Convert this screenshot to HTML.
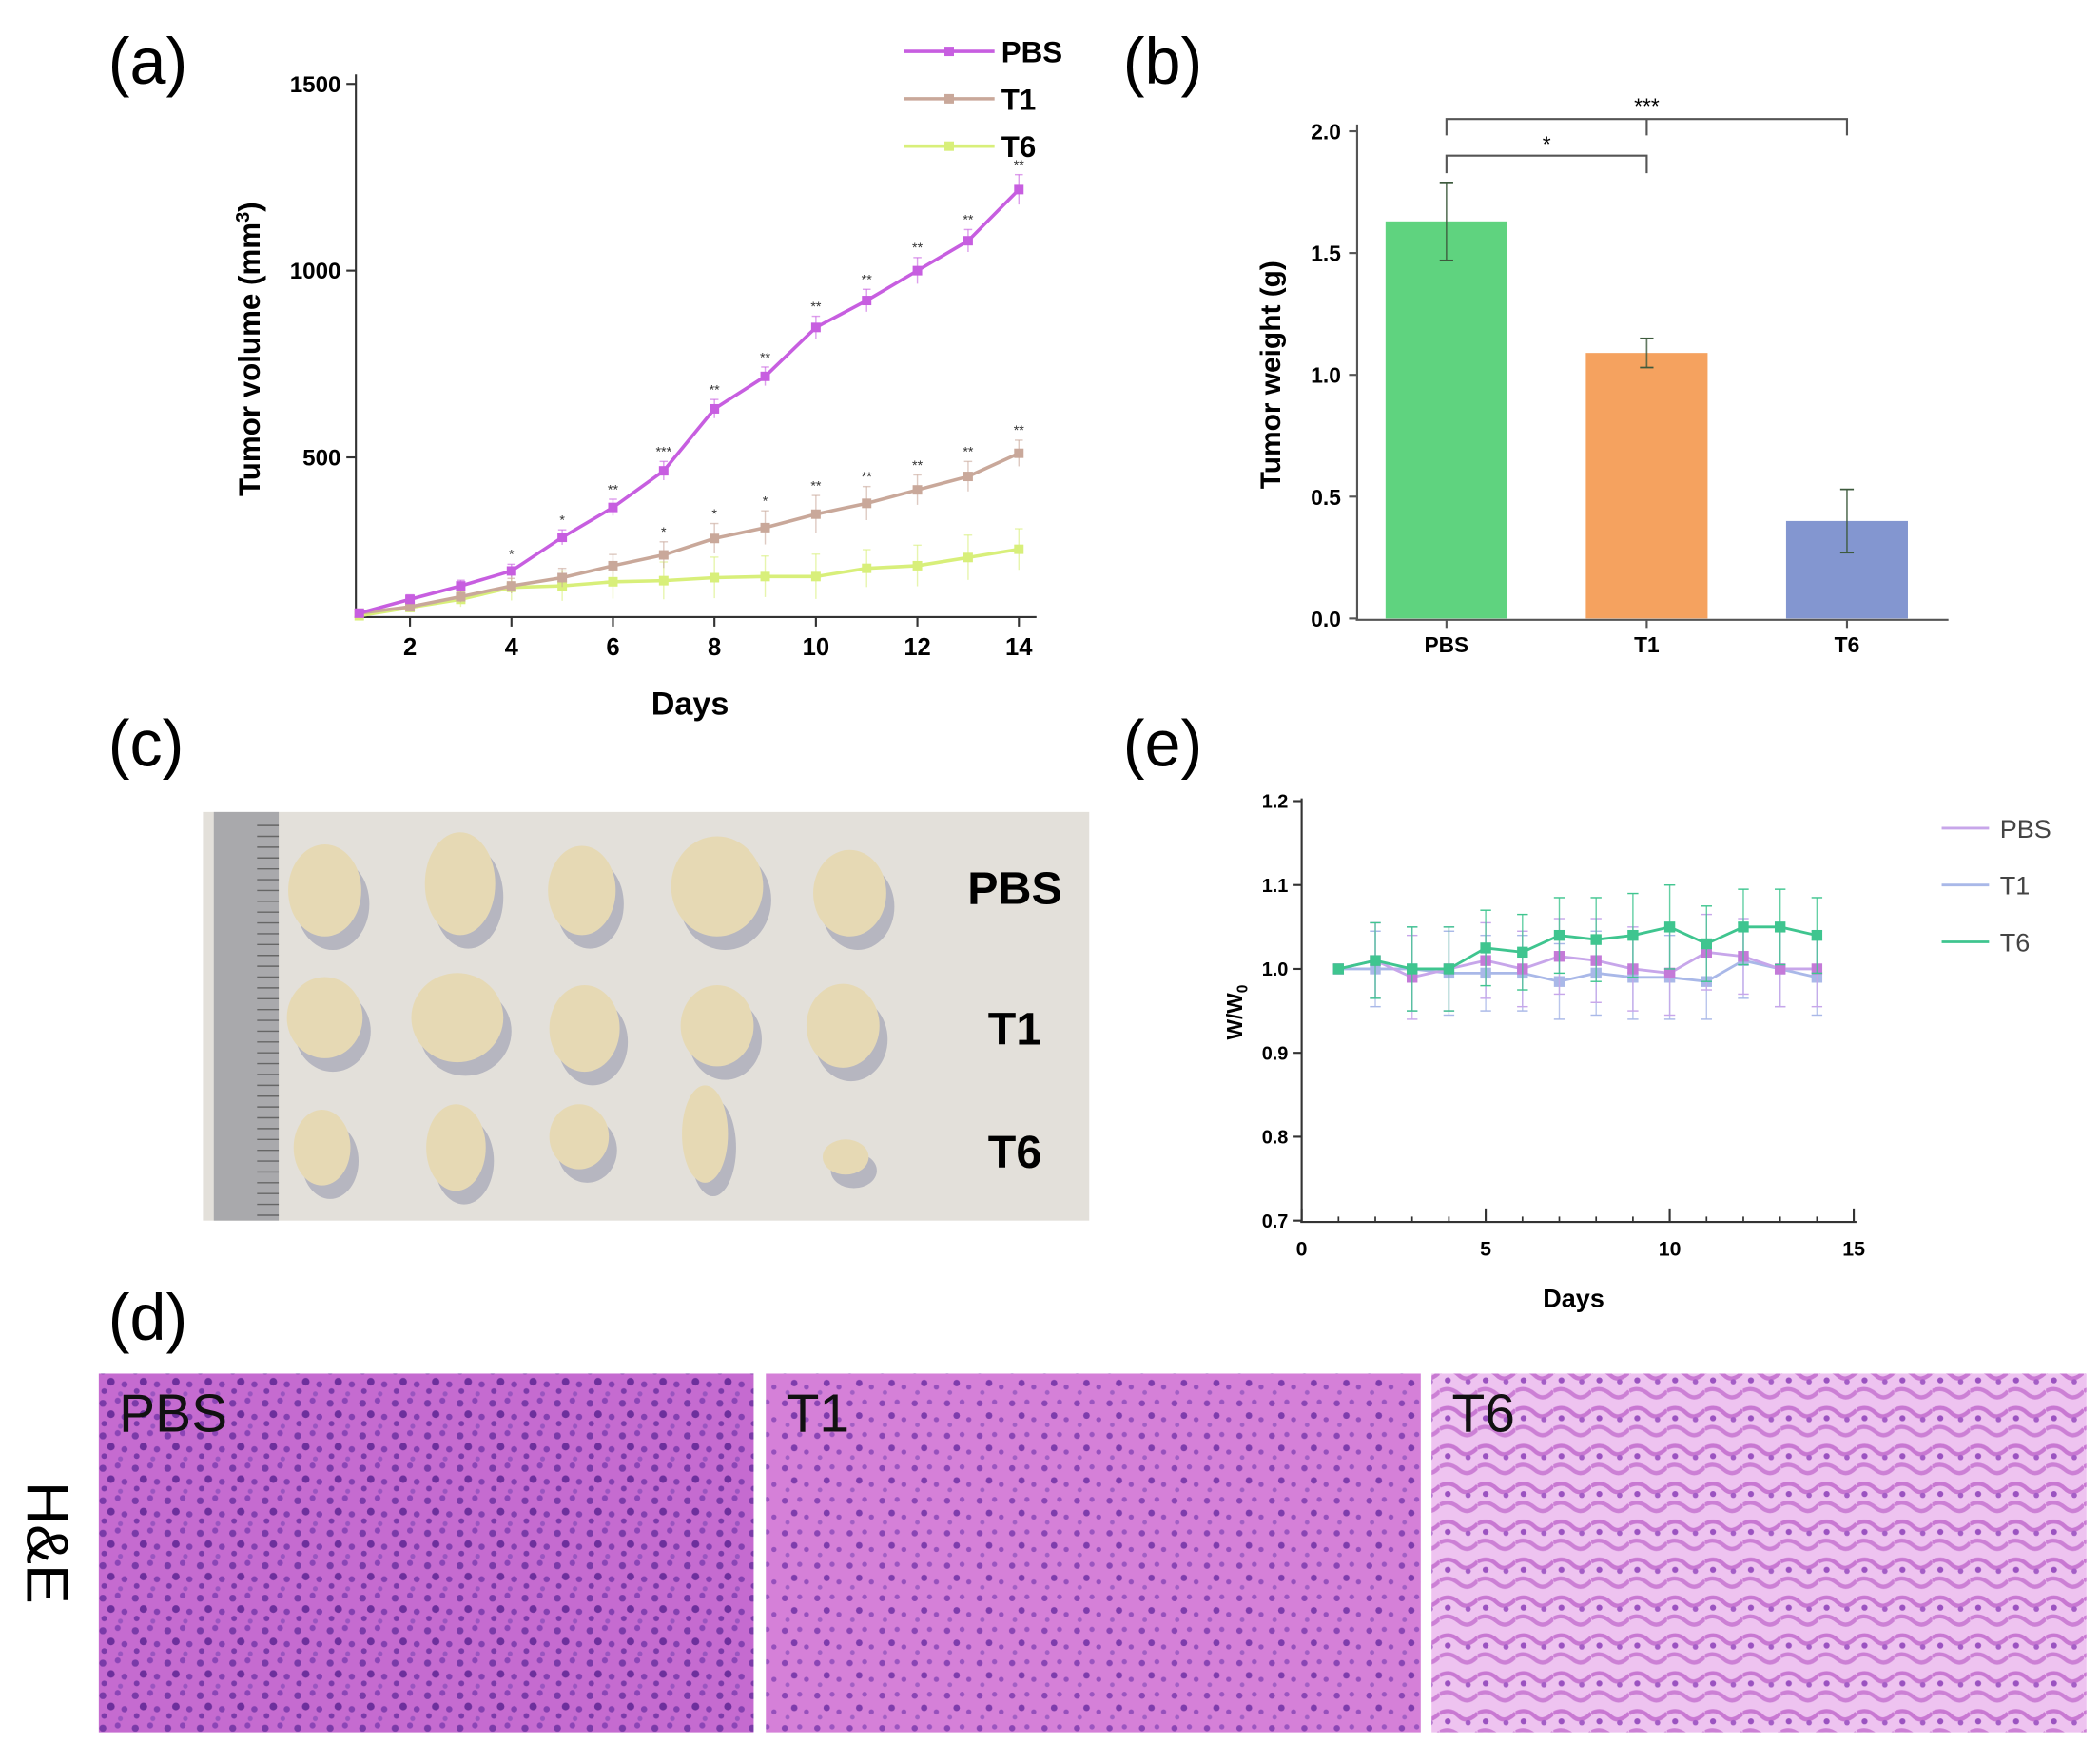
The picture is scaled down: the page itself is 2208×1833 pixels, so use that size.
<!DOCTYPE html>
<html><head><meta charset="utf-8"><style>
html,body{margin:0;padding:0;background:#fff}
svg{display:block}
text{font-family:"Liberation Sans",Arial,sans-serif}
</style></head><body>
<svg id="fig" width="2208" height="1833" viewBox="0 0 1552 1288" preserveAspectRatio="none" xmlns="http://www.w3.org/2000/svg">
<defs>
<pattern id="he1" width="24" height="24" patternUnits="userSpaceOnUse">
<rect width="24" height="24" fill="#c56bd0"/>
<circle cx="4" cy="5" r="2.6" fill="#7a3aa8"/><circle cx="15" cy="3" r="2.2" fill="#8b45b6"/>
<circle cx="10" cy="13" r="2.8" fill="#6d2f9c"/><circle cx="20" cy="15" r="2.3" fill="#8440b0"/>
<circle cx="5" cy="20" r="2.1" fill="#7b3aa9"/><circle cx="17" cy="22" r="1.8" fill="#9a55c0"/>
</pattern>
<pattern id="he2" width="24" height="24" patternUnits="userSpaceOnUse">
<rect width="24" height="24" fill="#d580d8"/>
<circle cx="4" cy="5" r="2.3" fill="#8a45b4"/><circle cx="15" cy="4" r="1.9" fill="#9b55c0"/>
<circle cx="11" cy="14" r="2.4" fill="#7e3cac"/><circle cx="20" cy="17" r="1.9" fill="#9650bc"/>
<circle cx="6" cy="21" r="1.7" fill="#a25fc4"/>
</pattern>
<pattern id="he3" width="28" height="28" patternUnits="userSpaceOnUse">
<rect width="28" height="28" fill="#eec3f0"/>
<path d="M0 6 Q8 2 14 8 T28 6" stroke="#c878d2" stroke-width="3" fill="none"/>
<path d="M0 20 Q7 16 14 22 T28 20" stroke="#cc80d5" stroke-width="3" fill="none"/>
<circle cx="6" cy="12" r="2.2" fill="#9a52c0"/><circle cx="21" cy="13" r="2" fill="#a45ec6"/>
</pattern>
</defs>
</svg>
<script>
const NS="http://www.w3.org/2000/svg";
const svg=document.getElementById('fig');
function el(tag,attrs,parent,txt){const e=document.createElementNS(NS,tag);for(const k in attrs)e.setAttribute(k,attrs[k]);if(txt!==undefined)e.textContent=txt;(parent||svg).appendChild(e);return e;}

// ---------- Panel (a) data ----------
const aDays=[1,2,3,4,5,6,7,8,9,10,11,12,13,14];
const aPBS=[83,120,156,196,286,366,464,630,717,848,920,1000,1080,1217];
const aT1=[83,100,127,156,178,210,239,283,312,348,377,413,449,511];
const aT6=[76,98,120,152,156,167,170,178,181,181,203,210,232,254];
const aPBSerr=[10,12,15,18,20,22,25,25,25,30,30,35,30,40];
const aT1err=[8,10,15,20,25,30,35,40,45,50,45,40,40,35];
const aT6err=[8,10,20,35,40,45,50,55,55,60,50,55,60,55];
const aPBSstars=["","","","*","*","**","***","**","**","**","**","**","**","**"];
const aT1stars=["","","","","","","*","*","*","**","**","**","**","**"];
const aYTicks=[500,1000,1500];
const aXTicks=[2,4,6,8,10,12,14];

const ax=d=>265.5+(d-1)*37.5;
const ay=v=>476-v*0.276;
const gA=el('g',{});
el('text',{x:80,y:62,'font-size':48},gA,'(a)');
el('line',{x1:263,y1:55,x2:263,y2:456,stroke:'#333','stroke-width':1.5},gA);
el('line',{x1:262,y1:456,x2:766,y2:456,stroke:'#333','stroke-width':1.5},gA);
aYTicks.forEach(v=>{el('line',{x1:256,y1:ay(v),x2:263,y2:ay(v),stroke:'#333','stroke-width':1.5},gA);
 const t=el('text',{x:252,y:ay(v)+6,'font-size':17,'font-weight':'bold','text-anchor':'end'},gA,v);});
aXTicks.forEach(d=>{el('line',{x1:ax(d),y1:456,x2:ax(d),y2:463,stroke:'#333','stroke-width':1.5},gA);
 const t=el('text',{x:ax(d),y:484,'font-size':18,'font-weight':'bold','text-anchor':'middle'},gA,d);});
el('text',{x:510,y:528,'font-size':24,'font-weight':'bold','text-anchor':'middle'},gA,'Days');
const yt=el('text',{transform:'translate(192,258) rotate(-90)','font-size':22,'font-weight':'bold','text-anchor':'middle'},gA);

yt.innerHTML='Tumor volume (mm<tspan dy="-8" font-size="14">3</tspan><tspan dy="8">)</tspan>';
function series(vals,errs,color,name,stars){
 const g=el('g',{},gA);
 vals.forEach((v,i)=>{el('line',{x1:ax(aDays[i]),y1:ay(v-errs[i]),x2:ax(aDays[i]),y2:ay(v+errs[i]),stroke:color,'stroke-width':1,opacity:0.6},g);
  el('line',{x1:ax(aDays[i])-3,y1:ay(v+errs[i]),x2:ax(aDays[i])+3,y2:ay(v+errs[i]),stroke:color,'stroke-width':1,opacity:0.6},g);});
 el('polyline',{points:vals.map((v,i)=>ax(aDays[i])+','+ay(v)).join(' '),fill:'none',stroke:color,'stroke-width':2.5},g);
 vals.forEach((v,i)=>{const r=el('rect',{x:ax(aDays[i])-3.5,y:ay(v)-3.5,width:7,height:7,fill:color},g);});
 if(stars)stars.forEach((s,i)=>{if(s)el('text',{x:ax(aDays[i]),y:ay(vals[i]+errs[i])-4,'font-size':10,'text-anchor':'middle',fill:'#333'},g,s);});
}
series(aT6,aT6err,'#d8ef7a','t6');
series(aT1,aT1err,'#c9a89a','t1',aT1stars);
series(aPBS,aPBSerr,'#c75ee0','pbs',aPBSstars);
[['PBS','#c75ee0',38],['T1','#c9a89a',73],['T6','#d8ef7a',108]].forEach(([n,c,y])=>{
 const g=el('g',{},gA);
 el('line',{x1:668,y1:y,x2:735,y2:y,stroke:c,'stroke-width':2.5},g);
 el('rect',{x:698,y:y-3.5,width:7,height:7,fill:c},g);
 el('text',{x:740,y:y+8,'font-size':22,'font-weight':'bold'},g,n);});

// ---------- Panel (b) ----------
const bCats=['PBS','T1','T6'];
const bVals=[1.63,1.09,0.40];
const bErrs=[0.16,0.06,0.13];
const bColors=['#5fd37f','#f5a25f','#8396d0'];
const bYTicks=[0.0,0.5,1.0,1.5,2.0];
const by=v=>457-v*180;
const bx=i=>1069+i*148;
const gB=el('g',{});
el('text',{x:830,y:62,'font-size':48},gB,'(b)');
el('line',{x1:1003,y1:92,x2:1003,y2:458,stroke:'#555','stroke-width':1.5},gB);
el('line',{x1:1002,y1:458,x2:1440,y2:458,stroke:'#555','stroke-width':1.5},gB);
bYTicks.forEach(v=>{el('line',{x1:997,y1:by(v),x2:1003,y2:by(v),stroke:'#555','stroke-width':1.5},gB);
 const t=el('text',{x:991,y:by(v)+6,'font-size':16,'font-weight':'bold','text-anchor':'end'},gB,v.toFixed(1));});
const bt=el('text',{transform:'translate(946,277) rotate(-90)','font-size':21,'font-weight':'bold','text-anchor':'middle'},gB,'Tumor weight (g)');
bCats.forEach((c,i)=>{
 const r=el('rect',{x:bx(i)-45,y:by(bVals[i]),width:90,height:by(0)-by(bVals[i]),fill:bColors[i]},gB);
 
 const x=bx(i);
 el('line',{x1:x,y1:by(bVals[i]-bErrs[i]),x2:x,y2:by(bVals[i]+bErrs[i]),stroke:'#3d5a3d','stroke-width':1.2,opacity:0.8},gB);
 el('line',{x1:x-5,y1:by(bVals[i]+bErrs[i]),x2:x+5,y2:by(bVals[i]+bErrs[i]),stroke:'#3d5a3d','stroke-width':1.2},gB);
 el('line',{x1:x-5,y1:by(bVals[i]-bErrs[i]),x2:x+5,y2:by(bVals[i]-bErrs[i]),stroke:'#3d5a3d','stroke-width':1.2},gB);
 el('line',{x1:x,y1:458,x2:x,y2:464,stroke:'#555','stroke-width':1.5},gB);
 const t=el('text',{x:x,y:482,'font-size':16,'font-weight':'bold','text-anchor':'middle'},gB,c);
});
const br1=el('path',{d:`M${bx(0)} 128 V115 H${bx(1)} V128`,fill:'none',stroke:'#555','stroke-width':1.5},gB);
el('text',{x:(bx(0)+bx(1))/2,y:112,'font-size':16,'text-anchor':'middle'},gB,'*');
const br2=el('path',{d:`M${bx(0)} 100 V88 H${bx(2)} V100 M${bx(1)} 88 V100`,fill:'none',stroke:'#555','stroke-width':1.5},gB);
el('text',{x:bx(1),y:84,'font-size':16,'text-anchor':'middle'},gB,'***');

// ---------- Panel (c) photo ----------
const gC=el('g',{});
el('text',{x:80,y:566,'font-size':48},gC,'(c)');
el('rect',{x:150,y:600,width:655,height:302,fill:'#e3e0da'},gC);
el('rect',{x:158,y:600,width:48,height:302,fill:'#a9a9ac'},gC);
for(let y=610;y<900;y+=8)el('line',{x1:190,y1:y,x2:206,y2:y,stroke:'#666','stroke-width':1},gC);
const tumors=[
[[240,658,27,34],[340,653,26,38],[430,658,25,33],[530,655,34,37],[628,660,27,32]],
[[240,752,28,30],[338,752,34,33],[432,760,26,32],[530,758,27,30],[623,758,27,31]],
[[238,848,21,28],[337,848,22,32],[428,840,22,24],[521,838,17,36],[625,855,17,13]]];
tumors.forEach((row,ri)=>row.forEach(([cx,cy,rx,ry])=>{
 el('ellipse',{cx:cx+6,cy:cy+10,rx:rx,ry:ry,fill:'#b6b6c0'},gC);
 const e=el('ellipse',{cx:cx,cy:cy,rx:rx,ry:ry,fill:'#e6d9b4'},gC);
}));
[['PBS',668],['T1',772],['T6',863]].forEach(([n,y])=>{const t=el('text',{x:750,y:y,'font-size':34,'font-weight':'bold','text-anchor':'middle'},gC,n);});

// ---------- Panel (e) ----------
const eDays=[1,2,3,4,5,6,7,8,9,10,11,12,13,14];
const ePBS=[1.0,1.01,0.99,1.0,1.01,1.0,1.015,1.01,1.0,0.995,1.02,1.015,1.0,1.0];
const eT1=[1.0,1.0,1.0,0.995,0.995,0.995,0.985,0.995,0.99,0.99,0.985,1.01,1.0,0.99];
const eT6=[1.0,1.01,1.0,1.0,1.025,1.02,1.04,1.035,1.04,1.05,1.03,1.05,1.05,1.04];
const eErr=[0.005,0.045,0.05,0.05,0.045,0.045,0.045,0.05,0.05,0.05,0.045,0.045,0.045,0.045];
const eYTicks=[0.7,0.8,0.9,1.0,1.1,1.2];
const eXTicks=[0,5,10,15];
const ex=d=>962+d*27.2;
const ey=v=>902-(v-0.7)*620;
const gE=el('g',{});
el('text',{x:830,y:566,'font-size':48},gE,'(e)');
el('line',{x1:962,y1:590,x2:962,y2:903,stroke:'#333','stroke-width':1.5},gE);
el('line',{x1:961,y1:903,x2:1372,y2:903,stroke:'#333','stroke-width':1.5},gE);
eYTicks.forEach(v=>{el('line',{x1:956,y1:ey(v),x2:962,y2:ey(v),stroke:'#333','stroke-width':1.5},gE);
 const t=el('text',{x:952,y:ey(v)+5,'font-size':14,'font-weight':'bold','text-anchor':'end'},gE,v.toFixed(1));});
eDays.forEach(d=>el('line',{x1:ex(d),y1:903,x2:ex(d),y2:d%5==0?895:899,stroke:'#333','stroke-width':1.2},gE));
eXTicks.forEach(d=>{el('line',{x1:ex(d),y1:903,x2:ex(d),y2:893,stroke:'#333','stroke-width':1.5},gE);
 const t=el('text',{x:ex(d),y:928,'font-size':15,'font-weight':'bold','text-anchor':'middle'},gE,d);});
el('text',{x:1163,y:966,'font-size':19,'font-weight':'bold','text-anchor':'middle'},gE,'Days');
const wt=el('text',{transform:'translate(918,748) rotate(-90)','font-size':16,'font-weight':'bold','text-anchor':'middle'},gE);
wt.innerHTML='W/W<tspan dy="4" font-size="11">0</tspan>';
function eSeries(vals,color,mark,name){
 const g=el('g',{},gE);
 vals.forEach((v,i)=>{const x=ex(eDays[i]);el('line',{x1:x,y1:ey(v-eErr[i]),x2:x,y2:ey(v+eErr[i]),stroke:color,'stroke-width':1,opacity:0.8},g);
  el('line',{x1:x-4,y1:ey(v+eErr[i]),x2:x+4,y2:ey(v+eErr[i]),stroke:color,'stroke-width':1},g);
  el('line',{x1:x-4,y1:ey(v-eErr[i]),x2:x+4,y2:ey(v-eErr[i]),stroke:color,'stroke-width':1},g);});
 el('polyline',{points:vals.map((v,i)=>ex(eDays[i])+','+ey(v)).join(' '),fill:'none',stroke:color,'stroke-width':2},g);
 vals.forEach((v,i)=>{const m=el('rect',{x:ex(eDays[i])-4,y:ey(v)-4,width:8,height:8,fill:mark},g);});
}
eSeries(eT1,'#a9b8e8','#a9b8e8','t1');
eSeries(ePBS,'#c7a6ea','#c47ad8','pbs');
eSeries(eT6,'#3fc58f','#3fc58f','t6');
[['PBS','#c7a6ea',612],['T1','#a9b8e8',654],['T6','#3fc58f',696]].forEach(([n,c,y])=>{
 const g=el('g',{},gE);
 el('line',{x1:1435,y1:y,x2:1470,y2:y,stroke:c,'stroke-width':2},g);
 el('text',{x:1478,y:y+7,'font-size':19,fill:'#444'},g,n);});

// ---------- Panel (d) H&E ----------
const gD=el('g',{});
el('text',{x:80,y:990,'font-size':48},gD,'(d)');
el('text',{transform:'translate(20,1140) rotate(90)','font-size':44,'text-anchor':'middle'},gD,'H&E');
[['PBS',73,'he1'],['T1',566,'he2'],['T6',1058,'he3']].forEach(([n,x,p])=>{
 const r=el('rect',{x:x,y:1015,width:484,height:265,fill:`url(#${p})`},gD);
 const t=el('text',{x:x+15,y:1058,'font-size':40,fill:'#111'},gD,n);
});
</script>
</body></html>
